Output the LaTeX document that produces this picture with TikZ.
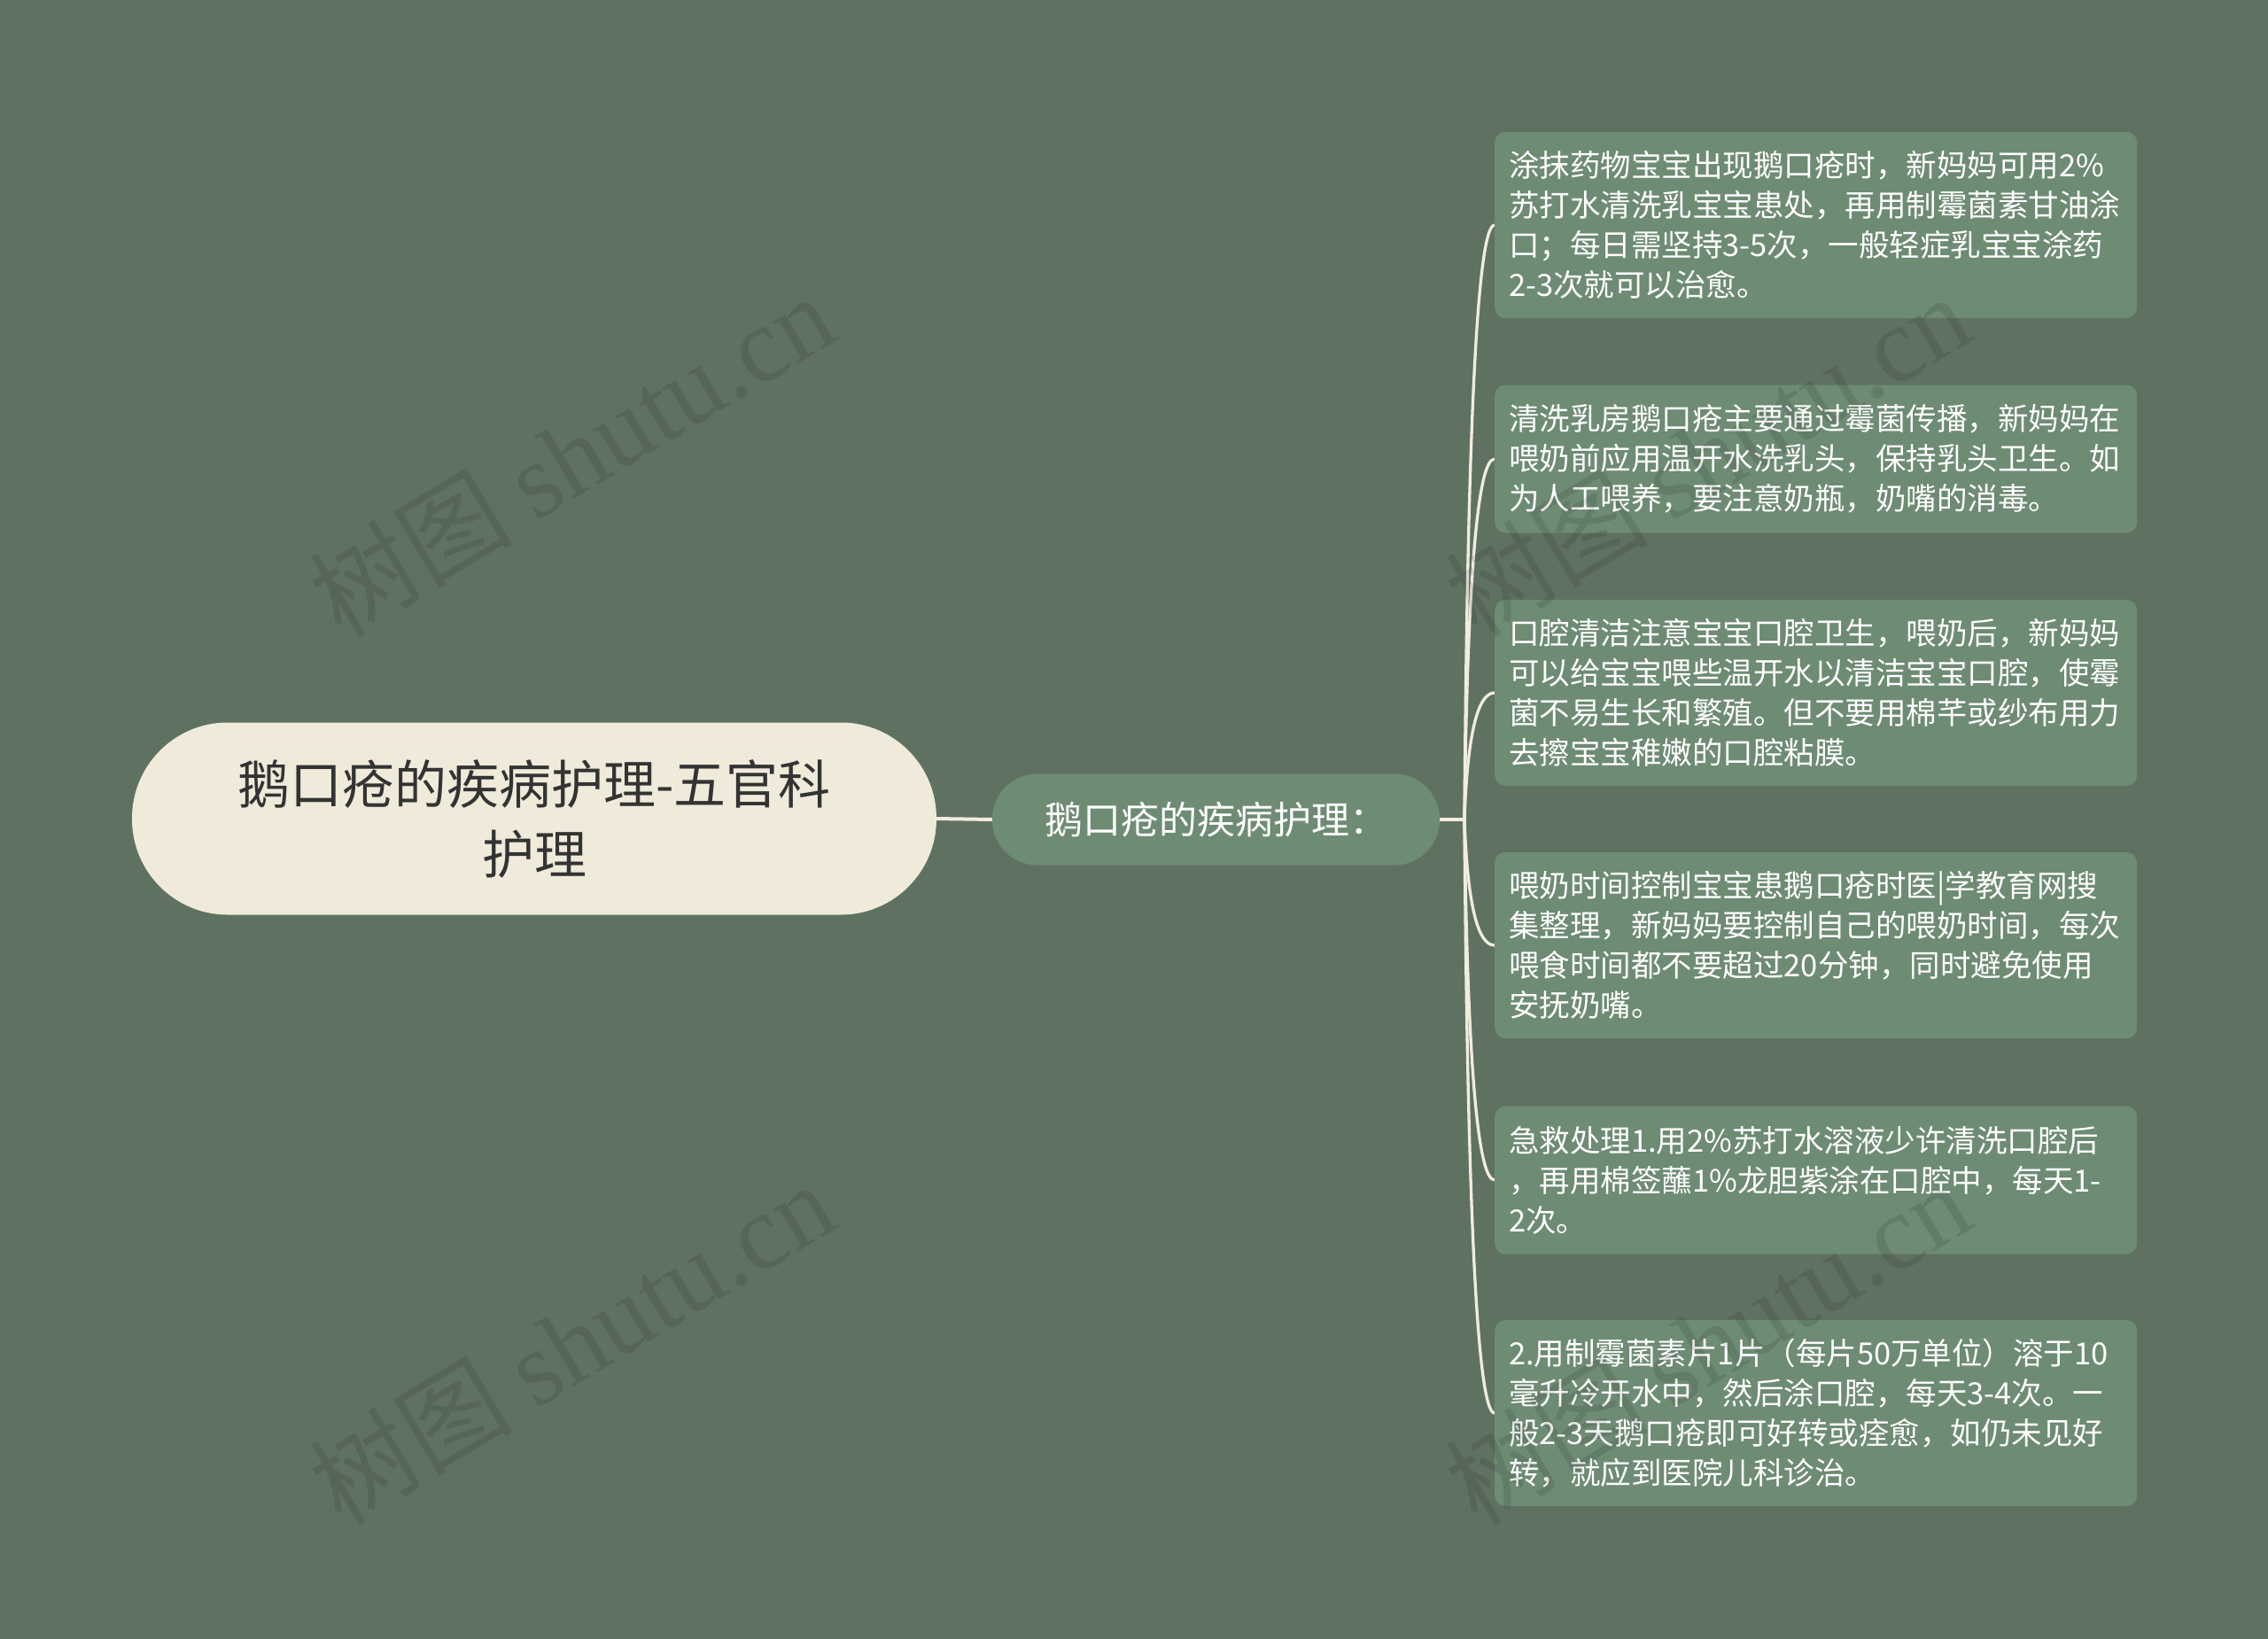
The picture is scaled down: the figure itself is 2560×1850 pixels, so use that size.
\documentclass[tikz,border=0pt]{standalone}
\usepackage{fontspec}
\newfontfamily\cjk{Noto Sans CJK SC}
\newfontfamily\wmlat{Liberation Serif}
\usetikzlibrary{calc,backgrounds}
\definecolor{bg}{RGB}{95,114,98}
\definecolor{leaffill}{RGB}{110,139,116}
\definecolor{rootfill}{RGB}{239,234,218}
\definecolor{linecol}{RGB}{240,236,222}
\definecolor{roottext}{RGB}{51,51,51}
\begin{document}
\begin{tikzpicture}[x=1pt,y=-1pt,
  rootbox/.style={fill=rootfill, rounded corners=108pt, minimum width=908pt, minimum height=217pt, inner sep=0pt, align=center, text=roottext, font=\cjk\fontsize{59}{79}\selectfont},
  subbox/.style={fill=leaffill, rounded corners=51pt, minimum width=505pt, minimum height=103pt, inner sep=0pt, text=white, font=\cjk\fontsize{43}{52}\selectfont},
  leafbox/.style={fill=leaffill, rounded corners=12pt, anchor=west, text width=693pt, inner xsep=16pt, inner ysep=0pt, align=left, text=white, font=\cjk\fontsize{34.5}{45}\selectfont},
  fourline/.style={minimum height=210pt},
  threeline/.style={minimum height=167pt},
  link/.style={draw=linecol, line width=4pt},
  branch/.style={draw=linecol, line width=3.3pt},
  wm/.style={rotate=31, text=black, text opacity=0.1, inner sep=0pt}
]
\useasboundingbox (0,0) rectangle (2560,1850);

\node[rootbox] (root) at (603,924) {鹅口疮的疾病护理-五官科\\护理};
\node[subbox] (sub) at (1372.5,925) {鹅口疮的疾病护理：};

\node[leafbox,fourline] (l1) at (1687,254) {涂抹药物宝宝出现鹅口疮时，新妈妈可用2\%\\苏打水清洗乳宝宝患处，再用制霉菌素甘油涂\\口；每日需坚持3-5次，一般轻症乳宝宝涂药\\2-3次就可以治愈。};
\node[leafbox,threeline] (l2) at (1687,518) {清洗乳房鹅口疮主要通过霉菌传播，新妈妈在\\喂奶前应用温开水洗乳头，保持乳头卫生。如\\为人工喂养，要注意奶瓶，奶嘴的消毒。};
\node[leafbox,fourline] (l3) at (1687,782) {口腔清洁注意宝宝口腔卫生，喂奶后，新妈妈\\可以给宝宝喂些温开水以清洁宝宝口腔，使霉\\菌不易生长和繁殖。但不要用棉芊或纱布用力\\去擦宝宝稚嫩的口腔粘膜。};
\node[leafbox,fourline] (l4) at (1687,1067) {喂奶时间控制宝宝患鹅口疮时医|学教育网搜\\集整理，新妈妈要控制自己的喂奶时间，每次\\喂食时间都不要超过20分钟，同时避免使用\\安抚奶嘴。};
\node[leafbox,threeline] (l5) at (1687,1332) {急救处理1.用2\%苏打水溶液少许清洗口腔后\\，再用棉签蘸1\%龙胆紫涂在口腔中，每天1-\\2次。};
\node[leafbox,fourline] (l6) at (1687,1595) {2.用制霉菌素片1片（每片50万单位）溶于10\\毫升冷开水中，然后涂口腔，每天3-4次。一\\般2-3天鹅口疮即可好转或痊愈，如仍未见好\\转，就应到医院儿科诊治。};

\coordinate (hub) at (1653,925);

\begin{scope}[on background layer]
  \fill[bg] (0,0) rectangle (2560,1850);
  \draw[link] (root.east) -- (sub.west);
  \draw[link] (sub.east) -- (hub);
  \foreach \i in {1,...,6}{
    \coordinate (c\i) at (1658,0 |- l\i.west);
    \draw[branch] (hub) .. controls ($(hub)!0.6667!(c\i)$) and ($(l\i.west)!0.6667!(c\i)$) .. (l\i.west);
  }
\end{scope}

\node[wm] (wm1) at (645,514) {\cjk\fontsize{115}{120}\selectfont 树图 \wmlat\fontsize{120}{120}\selectfont shutu.cn};
\node[wm] (wm2) at (645,1516) {\cjk\fontsize{115}{120}\selectfont 树图 \wmlat\fontsize{120}{120}\selectfont shutu.cn};
\node[wm] (wm3) at (1927,514) {\cjk\fontsize{115}{120}\selectfont 树图 \wmlat\fontsize{120}{120}\selectfont shutu.cn};
\node[wm] (wm4) at (1927,1516) {\cjk\fontsize{115}{120}\selectfont 树图 \wmlat\fontsize{120}{120}\selectfont shutu.cn};
\end{tikzpicture}
\end{document}
